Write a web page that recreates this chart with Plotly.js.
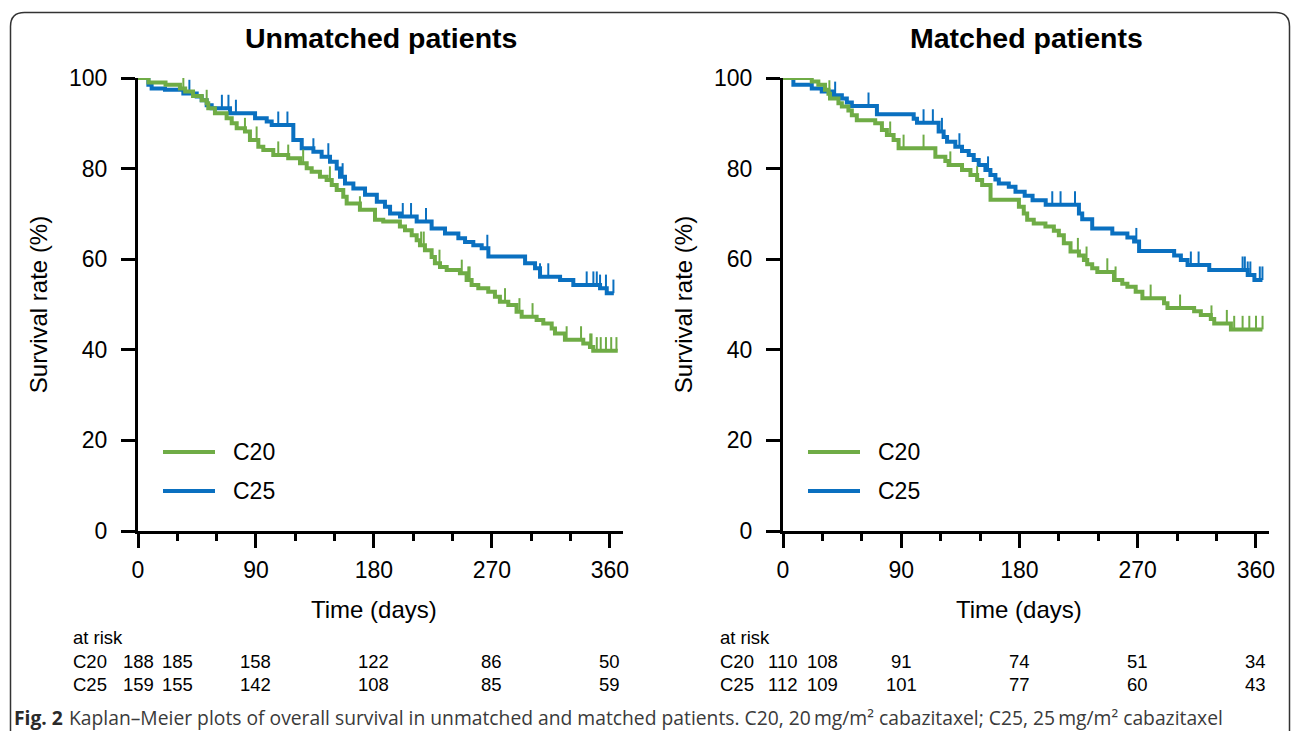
<!DOCTYPE html>
<html>
<head>
<meta charset="utf-8">
<script src="https://cdn.plot.ly/plotly-3.0.1.min.js"></script>
<style>html,body{margin:0;padding:0;background:#fff;}#chart{width:1292px;height:731px;}</style>
</head>
<body>
<div id="chart"></div>
<script>
// ---------- DATA ----------
// Unmatched patients, C20 (step times in days, survival %)
const unmatchedC20Time = [0, 8, 21, 32, 36, 42, 48.6, 52.4, 53.6, 58.7, 67.6, 71.5, 75.3, 81.6, 85.4, 91.8, 95.6, 103.2, 114.6, 123.6, 128.7, 132.5, 138.8, 143.9, 147.8, 151.6, 156.6, 159.2, 169.3, 180.8, 187.1, 199.8, 203.7, 208.8, 212.6, 215.1, 218.9, 224, 226.5, 230.4, 235.5, 245.6, 250.7, 254.5, 259.6, 267.2, 272.3, 276.1, 282.5, 288.8, 292.7, 304.1, 309.2, 315.6, 318.1, 325.7, 339.7, 344.8, 347.3, 366];
const unmatchedC20Surv = [100, 99.0, 98.5, 97.7, 97.0, 96.0, 95.1, 94.4, 93.3, 92.2, 91.1, 90.0, 88.9, 88.2, 86.3, 84.8, 84.1, 83.0, 82.3, 81.2, 80.1, 79.3, 78.2, 77.5, 76.4, 75.3, 73.8, 72.3, 70.9, 68.7, 68.3, 67.2, 66.4, 65.3, 64.2, 63.1, 62.0, 60.5, 59.1, 58.3, 57.6, 56.9, 55.4, 54.3, 53.6, 52.8, 51.7, 50.6, 49.9, 48.4, 47.3, 46.6, 45.8, 44.7, 43.6, 42.2, 41.4, 40.6, 39.8, 39.8];
const unmatchedC20Censor = [34.6, 52.4, 81.6, 90.5, 107, 114.6, 126, 146.4, 169.3, 216, 218, 230, 247, 252, 253, 280, 291, 301, 327, 338, 345, 346, 350, 353, 357, 361, 365];

// Unmatched patients, C25
const unmatchedC25Time = [0, 7.9, 10.4, 20.6, 34.6, 44.8, 48.6, 52.4, 56.2, 70.2, 89.3, 98.2, 102, 118.5, 124.9, 133.8, 140.1, 146.5, 151.6, 154.1, 157.9, 164.3, 173.2, 182.2, 188.4, 192.3, 199.9, 212.6, 224, 234.2, 244.4, 249.5, 255.8, 262.2, 267.3, 295.3, 302.9, 306.7, 322, 332.1, 352.5, 357.6, 363];
const unmatchedC25Surv = [100, 98.5, 97.7, 97.4, 96.6, 95.9, 95.1, 94.0, 93.3, 92.2, 91.1, 90.4, 89.6, 86.3, 84.5, 83.7, 82.6, 81.5, 80.0, 78.2, 76.7, 75.6, 74.2, 72.7, 71.6, 70.1, 69.4, 68.3, 66.8, 65.7, 64.6, 63.8, 63.1, 62.4, 60.6, 59.1, 58.0, 56.1, 55.4, 54.3, 53.6, 52.5, 52.5];
const unmatchedC25Censor = [39.2, 64, 69, 74.7, 107, 114, 133.8, 145.2, 156.1, 202, 208.3, 219.7, 266.5, 306.7, 313, 342.3, 347.4, 350, 352.5, 357, 362.7];

// Matched patients, C20
const matchedC20Time = [0, 21.9, 26.9, 32, 34.6, 35.8, 42.2, 44.8, 49.8, 52.4, 56.2, 70.2, 75.3, 79.1, 84.2, 88, 116, 123.6, 126.1, 136.3, 142.7, 147.8, 151.6, 158, 179.6, 183.3, 185.9, 190.9, 199.8, 206.2, 210, 213.8, 218.9, 225.3, 229.1, 231.6, 235.4, 239.3, 252, 258.3, 262.2, 268.5, 273.6, 290.1, 292.7, 313, 318.1, 325.7, 328.3, 341, 365];
const matchedC20Surv = [100, 99.2, 98.5, 97.4, 96.5, 95.5, 94.4, 93.7, 92.8, 91.8, 90.7, 90.0, 88.5, 87.4, 86.3, 84.5, 82.6, 81.7, 80.8, 79.7, 78.6, 77.5, 76.4, 73.1, 71.6, 70.1, 68.7, 67.9, 67.2, 66.3, 65.3, 63.5, 61.7, 60.8, 59.8, 58.9, 58.0, 57.2, 55.4, 54.6, 53.9, 52.8, 51.4, 50.3, 49.2, 48.5, 47.7, 46.8, 45.8, 44.5, 44.5];
const matchedC20Censor = [35.3, 81.6, 91.8, 107, 127.4, 147.8, 224.5, 231.1, 246.9, 253.2, 279.9, 302.3, 326.2, 337.9, 343.5, 349.9, 355, 360.1, 365.1];

// Matched patients, C25
const matchedC25Time = [0, 7.9, 21.9, 29.5, 38.4, 44.8, 48.6, 52.4, 71.5, 99.5, 102, 118.5, 122.3, 124.9, 131.2, 136.3, 141.4, 145.2, 149, 154.1, 157.9, 161.7, 164.3, 171.9, 177, 184, 190, 200, 225.3, 227.8, 235.4, 250.7, 262.2, 267.3, 271.1, 297.8, 302.9, 308, 324.5, 353.8, 358.9, 365];
const matchedC25Surv = [100, 98.5, 97.7, 97.0, 96.2, 95.5, 94.6, 93.8, 92.0, 91.0, 90.1, 88.2, 87.0, 85.9, 84.8, 83.9, 83.0, 81.9, 80.8, 79.7, 78.6, 77.6, 76.7, 76.0, 74.9, 74.0, 73.0, 72.0, 70.1, 68.8, 66.8, 65.7, 64.8, 63.9, 61.8, 60.8, 59.8, 58.7, 57.6, 56.5, 55.4, 55.4];
const matchedC25Censor = [39.7, 65.1, 107, 114.1, 121, 134.3, 156.1, 205, 211.3, 222.3, 269, 310.5, 316.4, 349.9, 351.6, 353.8, 355.8, 363, 365];

// Numbers at risk
const riskDays = [0, 30, 90, 180, 270, 360];
const riskUnmatchedC20 = [188, 185, 158, 122, 86, 50];
const riskUnmatchedC25 = [159, 155, 142, 108, 85, 59];
const riskMatchedC20 = [110, 108, 91, 74, 51, 34];
const riskMatchedC25 = [112, 109, 101, 77, 60, 43];

const groupNames = ['C20', 'C25'];
const panelTitles = ['Unmatched patients', 'Matched patients'];
const xTickVals = [0, 90, 180, 270, 360];
const yTickVals = [0, 20, 40, 60, 80, 100];
const xTitle = 'Time (days)';
const yTitle = 'Survival rate (%)';
const captionLead = 'Fig. 2';
const captionText = 'Kaplan–Meier plots of overall survival in unmatched and matched patients. C20, 20\u2009mg/m² cabazitaxel; C25, 25\u2009mg/m² cabazitaxel';

// ---------- STYLE ----------
const W = 1292, H = 731;
const GREEN = '#6fac46', BLUE = '#0a70c0';
const FONT = 'Liberation Sans, Arial, sans-serif';
const CAP_FONT = 'Open Sans, Noto Sans, sans-serif';
const px = x => x / W;
const py = y => 1 - y / H;
const CENSOR_LEN = 3; // tick height (survival %)

function stepAt(times, surv, t) {
  let v = surv[0];
  for (let i = 0; i < times.length; i++) { if (times[i] <= t) v = surv[i]; else break; }
  return v;
}

function kmTraces(times, surv, censor, color, xa, ya) {
  return [
    { x: times, y: surv, type: 'scatter', mode: 'lines', line: { shape: 'hv', color: color, width: 4 },
      xaxis: xa, yaxis: ya, cliponaxis: false, hoverinfo: 'skip' },
    { x: censor, y: censor.map(t => stepAt(times, surv, t)), type: 'scatter', mode: 'markers',
      marker: { size: 2, color: 'rgba(0,0,0,0)' }, xaxis: xa, yaxis: ya, cliponaxis: false, hoverinfo: 'skip',
      error_y: { type: 'data', symmetric: false, array: censor.map(() => CENSOR_LEN), arrayminus: censor.map(() => 0),
                 width: 0, thickness: 2, color: color } }
  ];
}

const data = [].concat(
  kmTraces(unmatchedC25Time, unmatchedC25Surv, unmatchedC25Censor, BLUE, 'x', 'y'),
  kmTraces(unmatchedC20Time, unmatchedC20Surv, unmatchedC20Censor, GREEN, 'x', 'y'),
  kmTraces(matchedC25Time, matchedC25Surv, matchedC25Censor, BLUE, 'x2', 'y2'),
  kmTraces(matchedC20Time, matchedC20Surv, matchedC20Censor, GREEN, 'x2', 'y2')
);

const yDom = [py(531), py(78)];
function xAxis(dom, anchor) {
  return { domain: dom, anchor: anchor, range: [0, 370], tickvals: xTickVals, ticks: 'outside', ticklen: 14, tickwidth: 3,
    tickcolor: '#000', showline: true, linewidth: 3, linecolor: '#000', showgrid: false, zeroline: false,
    tickfont: { family: FONT, size: 23, color: '#000' }, ticklabelstandoff: 2,
    minor: { tick0: 0, dtick: 30, ticks: 'outside', ticklen: 7, tickwidth: 3, tickcolor: '#000', showgrid: false } };
}
function yAxis(anchor) {
  return { domain: yDom, anchor: anchor, range: [0, 100], tickvals: yTickVals, ticks: 'outside', ticklen: 14, tickwidth: 3,
    tickcolor: '#000', showline: true, linewidth: 3, linecolor: '#000', showgrid: false, zeroline: false,
    tickfont: { family: FONT, size: 23, color: '#000' }, ticklabelstandoff: 9,
    title: { text: yTitle, font: { family: FONT, size: 24, color: '#000' }, standoff: 15 } };
}

const ann = [];
const shapes = [];
const panels = [
  { xa: 'x', left: 138, risk: [riskUnmatchedC20, riskUnmatchedC25], labelX: 71 },
  { xa: 'x2', left: 783, risk: [riskMatchedC20, riskMatchedC25], labelX: 718 }
];
const RISK_FONT = { family: FONT, size: 18.5, color: '#000' };
panels.forEach((p, i) => {
  ann.push({ text: panelTitles[i], xref: p.xa + ' domain', yref: 'paper', x: 0.5, y: py(38),
    xanchor: 'center', yanchor: 'middle', showarrow: false, font: { family: FONT, size: 28.5, color: '#000', weight: 'bold' } });
  ann.push({ text: xTitle, xref: p.xa, yref: 'paper', x: 180, y: py(609), xanchor: 'center', yanchor: 'middle',
    showarrow: false, font: { family: FONT, size: 24, color: '#000' } });
  // legend
  [GREEN, BLUE].forEach((c, k) => {
    const ly = 452 + 39 * k;
    shapes.push({ type: 'line', xref: 'paper', yref: 'paper', x0: px(p.left + 25), x1: px(p.left + 77), y0: py(ly), y1: py(ly),
      line: { color: c, width: 4 } });
    ann.push({ text: groupNames[k], xref: 'paper', yref: 'paper', x: px(p.left + 93), y: py(ly), xanchor: 'left', yanchor: 'middle',
      showarrow: false, font: { family: FONT, size: 23, color: '#000' } });
  });
  // at risk table
  ann.push({ text: 'at risk', xref: 'paper', yref: 'paper', x: px(p.labelX), y: py(637), xanchor: 'left', yanchor: 'middle',
    showarrow: false, font: RISK_FONT });
  [0, 1].forEach(k => {
    const ry = 661 + 23 * k;
    ann.push({ text: groupNames[k], xref: 'paper', yref: 'paper', x: px(p.labelX), y: py(ry), xanchor: 'left', yanchor: 'middle',
      showarrow: false, font: RISK_FONT });
    riskDays.forEach((d, j) => {
      ann.push({ text: String(p.risk[k][j]), xref: p.xa, yref: 'paper', x: d, y: py(ry), xanchor: 'center', yanchor: 'middle',
        showarrow: false, font: RISK_FONT });
    });
  });
});

// caption
ann.push({ text: captionLead, xref: 'paper', yref: 'paper', x: px(12), y: py(717), xanchor: 'left', yanchor: 'middle', showarrow: false,
  font: { family: CAP_FONT, size: 19.3, color: '#2a2a2a', weight: 'bold' } });
ann.push({ text: captionText, xref: 'paper', yref: 'paper', x: px(67), y: py(717), xanchor: 'left', yanchor: 'middle', showarrow: false,
  font: { family: CAP_FONT, size: 19.3, color: '#3a3a3a' } });

// frame with rounded top corners
const L = 10.5, R = 1289.5, T = 12.5, B = 731, r = 14;
shapes.push({ type: 'path', xref: 'paper', yref: 'paper', layer: 'below',
  path: `M ${px(L)},${py(B)} L ${px(L)},${py(T + r)} Q ${px(L)},${py(T)} ${px(L + r)},${py(T)} L ${px(R - r)},${py(T)} Q ${px(R)},${py(T)} ${px(R)},${py(T + r)} L ${px(R)},${py(B)}`,
  line: { color: '#333', width: 1.5 } });

const layout = {
  width: W, height: H, margin: { l: 0, r: 0, t: 0, b: 0 }, paper_bgcolor: '#fff', plot_bgcolor: '#fff',
  showlegend: false, font: { family: FONT },
  xaxis: xAxis([px(138), px(623)], 'y'), yaxis: yAxis('x'),
  xaxis2: xAxis([px(783), px(1269)], 'y2'), yaxis2: yAxis('x2'),
  annotations: ann, shapes: shapes
};
Plotly.newPlot('chart', data, layout, { staticPlot: true, displayModeBar: false });
</script>
</body>
</html>
